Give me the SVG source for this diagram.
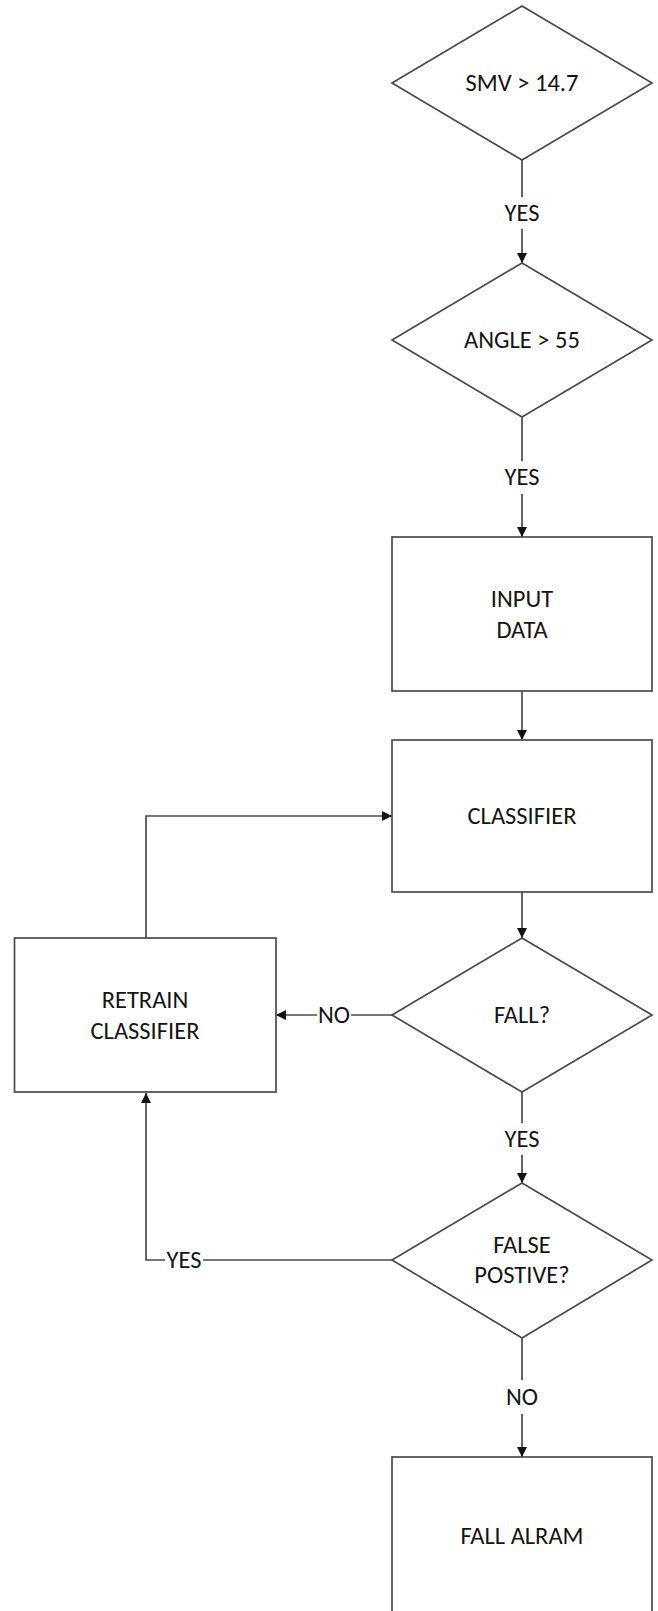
<svg xmlns="http://www.w3.org/2000/svg" width="658" height="1611" viewBox="0 0 658 1611">
<defs>
<style>
.shape{fill:#fff;stroke:#4a4a4a;stroke-width:1.7}
.edge{fill:none;stroke:#4a4a4a;stroke-width:1.7}
.lbl{font-family:"Carlito","Liberation Sans",Arial,sans-serif;font-size:24.5px;fill:#141414;text-anchor:middle}
</style>
<marker id="arr" viewBox="0 0 10 10" refX="10" refY="5" markerWidth="10" markerHeight="10" markerUnits="userSpaceOnUse" orient="auto">
<path d="M0,0 L10,5 L0,10 Z" fill="#111"/>
</marker>
</defs>
<rect width="658" height="1611" fill="#fff"/>
<g id="connectors">
<line class="edge" x1="522" y1="160" x2="522" y2="197"/>
<line class="edge" x1="522" y1="229" x2="522" y2="263" marker-end="url(#arr)"/>
<text class="lbl" x="522" y="221">YES</text>
<line class="edge" x1="522" y1="417" x2="522" y2="461"/>
<line class="edge" x1="522" y1="494" x2="522" y2="537" marker-end="url(#arr)"/>
<text class="lbl" x="522" y="485">YES</text>
<line class="edge" x1="522" y1="691" x2="522" y2="740" marker-end="url(#arr)"/>
<path class="edge" d="M146,938 V816 H392" marker-end="url(#arr)"/>
<line class="edge" x1="522" y1="892" x2="522" y2="938" marker-end="url(#arr)"/>
<line class="edge" x1="392" y1="1015" x2="351" y2="1015"/>
<line class="edge" x1="317" y1="1015" x2="276" y2="1015" marker-end="url(#arr)"/>
<text class="lbl" x="334" y="1023">NO</text>
<line class="edge" x1="522" y1="1092" x2="522" y2="1123"/>
<line class="edge" x1="522" y1="1155" x2="522" y2="1183" marker-end="url(#arr)"/>
<text class="lbl" x="522" y="1147">YES</text>
<line class="edge" x1="392" y1="1260" x2="203" y2="1260"/>
<path class="edge" d="M165,1260 H146 V1093" marker-end="url(#arr)"/>
<text class="lbl" x="184" y="1268">YES</text>
<line class="edge" x1="522" y1="1338" x2="522" y2="1380"/>
<line class="edge" x1="522" y1="1414" x2="522" y2="1457" marker-end="url(#arr)"/>
<text class="lbl" x="522" y="1405">NO</text>
</g>
<g id="smv">
<polygon class="shape" points="522,6 652,83 522,160 392,83"/>
<text class="lbl" x="522" y="91">SMV &gt; 14.7</text>
</g>
<g id="angle">
<polygon class="shape" points="522,263 652,340 522,417 392,340"/>
<text class="lbl" x="522" y="348">ANGLE &gt; 55</text>
</g>
<g id="input">
<rect class="shape" x="392" y="537" width="260" height="154"/>
<text class="lbl" x="522" y="607">INPUT</text>
<text class="lbl" x="522" y="638">DATA</text>
</g>
<g id="classifier">
<rect class="shape" x="392" y="740" width="260" height="152"/>
<text class="lbl" x="522" y="824">CLASSIFIER</text>
</g>
<g id="fall">
<polygon class="shape" points="522,938 652,1015 522,1092 392,1015"/>
<text class="lbl" x="522" y="1023">FALL?</text>
</g>
<g id="retrain">
<rect class="shape" x="14.5" y="938" width="261.5" height="154"/>
<text class="lbl" x="145" y="1008">RETRAIN</text>
<text class="lbl" x="145" y="1039">CLASSIFIER</text>
</g>
<g id="falsepos">
<polygon class="shape" points="522,1183 652,1260 522,1338 392,1260"/>
<text class="lbl" x="522" y="1253">FALSE</text>
<text class="lbl" x="522" y="1283">POSTIVE?</text>
</g>
<g id="alarm">
<rect class="shape" x="392" y="1457" width="260" height="170"/>
<text class="lbl" x="522" y="1544">FALL ALRAM</text>
</g>
</svg>
